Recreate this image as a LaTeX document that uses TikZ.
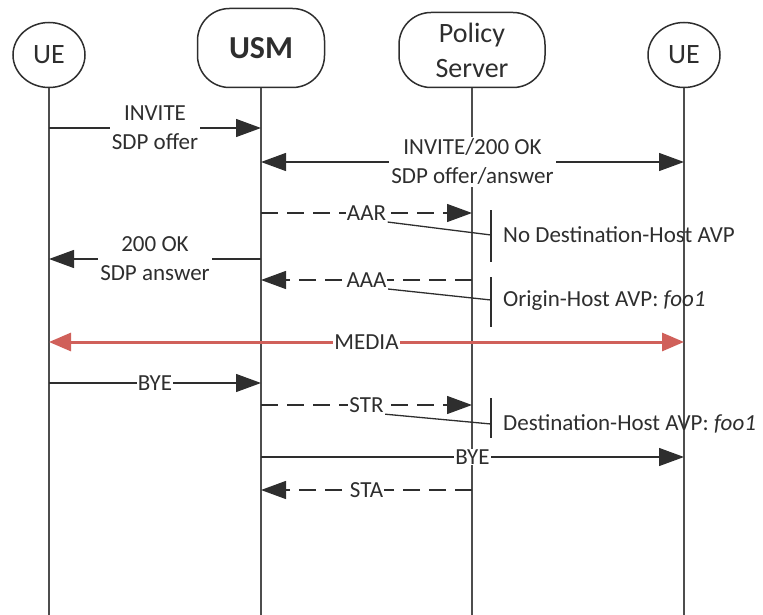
\documentclass[tikz,border=0pt]{standalone}
\usepackage{fontspec}
\setmainfont{Carlito}
\usetikzlibrary{arrows.meta,positioning,shapes.geometric}

\definecolor{lineclr}{HTML}{2E2E2E}
\definecolor{mediaclr}{HTML}{D0605A}

\tikzset{
  head/.style={draw=lineclr, line width=1.5pt, inner sep=0pt, text=lineclr, font=\fontsize{28}{35}\selectfont},
  uehead/.style={head, ellipse, minimum width=72pt, minimum height=65pt},
  boxhead/.style={head, rectangle, rounded corners=32pt, align=center},
  lifeline/.style={draw=lineclr!85, line width=1.6pt},
  msg/.style={draw=lineclr, line width=1.3pt, -{Triangle[length=25pt,width=18pt]}},
  bimsg/.style={msg, {Triangle[length=25pt,width=18pt]}-{Triangle[length=25pt,width=18pt]}},
  dmsg/.style={msg, dash pattern=on 17pt off 9pt},
  lbl/.style={fill=white, inner sep=2pt, align=center, text=lineclr, font=\fontsize{23}{29}\selectfont},
  notebar/.style={draw=lineclr, line width=1.3pt},
  notetxt/.style={anchor=west, inner sep=0pt, text=lineclr, font=\fontsize{23}{26}\selectfont},
}

\begin{document}
\begin{tikzpicture}[x=1pt, y=-1pt]
  \useasboundingbox (0,0) rectangle (763,615);

  % heads
  \node[uehead] (ue1) at (49,55) {UE};
  \node[boxhead, minimum width=127pt, minimum height=79pt, font=\fontsize{32}{34}\selectfont\bfseries] (usm) at (261,48) {USM};
  \node[boxhead, minimum width=146pt, minimum height=75pt] (ps) at (472,50) {Policy\\Server};
  \node[uehead] (ue2) at (684,55) {UE};

  % lifelines
  \coordinate (ue1end) at (49,615);
  \coordinate (usmend) at (261,615);
  \coordinate (psend) at (472,615);
  \coordinate (ue2end) at (684,615);
  \draw[lifeline] (ue1) -- (ue1end);
  \draw[lifeline] (usm) -- (usmend);
  \draw[lifeline] (ps) -- (psend);
  \draw[lifeline] (ue2) -- (ue2end);

  % INVITE
  \coordinate (inva) at (49,128);  \coordinate (invb) at (261,128);
  \draw[msg] (inva) -- node[lbl] {INVITE\\SDP offer} (invb);

  % INVITE/200 OK
  \coordinate (okx) at (261,162);  \coordinate (oky) at (684,162);
  \draw[bimsg] (okx) -- node[lbl] {INVITE/200 OK\\SDP offer/answer} (oky);

  % AAR
  \coordinate (aara) at (261,213);  \coordinate (aarb) at (472,213);
  \draw[dmsg] (aara) -- node[lbl, inner sep=1pt] (aar) {AAR} (aarb);

  % 200 OK
  \coordinate (oka) at (261,259);  \coordinate (okb) at (49,259);
  \draw[msg] (oka) -- node[lbl] {200 OK\\SDP answer} (okb);

  % AAA
  \coordinate (aaaa) at (472,280);  \coordinate (aaab) at (261,280);
  \draw[dmsg] (aaaa) -- node[lbl, inner sep=1pt] (aaa) {AAA} (aaab);

  % MEDIA
  \coordinate (meda) at (49,342);  \coordinate (medb) at (684,342);
  \draw[draw=mediaclr, fill=mediaclr, line width=3pt,
    {Triangle[length=22pt,width=18pt]}-{Triangle[length=22pt,width=18pt]}]
    (meda) -- node[lbl, inner sep=1pt] {MEDIA} (medb);

  % BYE
  \coordinate (byea) at (49,383);  \coordinate (byeb) at (261,383);
  \draw[msg] (byea) -- node[lbl, inner sep=1pt] {BYE} (byeb);

  % STR
  \coordinate (stra) at (261,405);  \coordinate (strb) at (472,405);
  \draw[dmsg] (stra) -- node[lbl, inner sep=1pt] (str) {STR} (strb);

  % BYE
  \coordinate (byec) at (261,457);  \coordinate (byed) at (684,457);
  \draw[msg] (byec) -- node[lbl, inner sep=1pt] {BYE} (byed);

  % STA
  \coordinate (staa) at (472,490);  \coordinate (stab) at (261,490);
  \draw[dmsg] (staa) -- node[lbl, inner sep=1pt] {STA} (stab);

  % notes
  \coordinate (n1) at (491,235);
  \draw[notebar] (491,210) -- (491,262);
  \draw[notebar] (aar.south east) -- (n1);
  \node[notetxt] at (503,235) {No Destination-Host AVP};

  \coordinate (n2) at (491,300);
  \draw[notebar] (491,277) -- (491,327);
  \draw[notebar] (aaa.south east) -- (n2);
  \node[notetxt] at (503,301) {Origin-Host AVP: \textit{foo1}};

  \coordinate (n3) at (491,424);
  \draw[notebar] (491,398) -- (491,438);
  \draw[notebar] (str.south east) -- (n3);
  \node[notetxt] at (503,424) {Destination-Host AVP: \textit{foo1}};
\end{tikzpicture}
\end{document}
